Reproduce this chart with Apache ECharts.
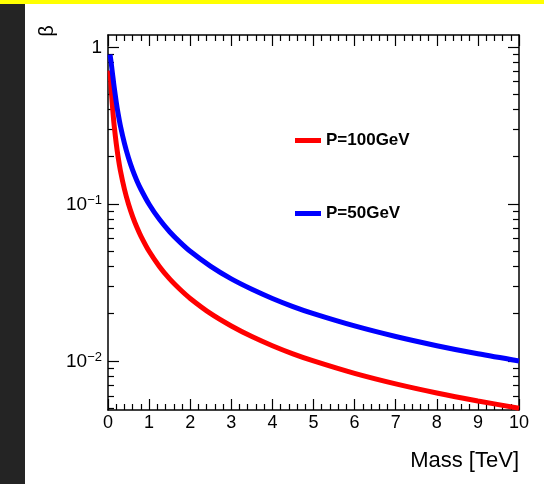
<!DOCTYPE html>
<html>
<head>
<meta charset="utf-8">
<script src="https://cdn.jsdelivr.net/npm/echarts@6/dist/echarts.min.js"></script>
<style>html,body{margin:0;padding:0;background:#fff;}#c{width:544px;height:484px;}</style>
</head>
<body>
<div id="c"></div>
<script>
// Mass [TeV]
const mass = [0.05,0.075,0.1,0.125,0.15,0.2,0.25,0.3,0.4,0.5,0.6,0.7,0.8,1.0,1.25,1.5,1.75,2,2.5,3,3.5,4,4.5,5,6,7,8,9,10];
// beta values
const betaBlue = [0.894,0.800,0.707,0.625,0.555,0.447,0.371,0.316,0.243,0.196,0.164,0.141,0.124,0.0995,0.0797,0.0665,0.0571,0.0499,0.0400,0.0333,0.0286,0.0250,0.0222,0.0200,0.0167,0.0143,0.0125,0.0111,0.0100];
const betaRed  = [0.707,0.555,0.447,0.371,0.316,0.243,0.196,0.164,0.124,0.0995,0.0830,0.0712,0.0624,0.0499,0.0400,0.0333,0.0286,0.0250,0.0200,0.0167,0.0143,0.0125,0.0111,0.0100,0.00833,0.00714,0.00625,0.00556,0.00500];
const seriesNames = ['P=100GeV','P=50GeV'];
const xTicks = [0,1,2,3,4,5,6,7,8,9,10];
const yMajor = [0.01,0.1,1];
const yMinor = [0.005,0.006,0.007,0.008,0.009,0.02,0.03,0.04,0.05,0.06,0.07,0.08,0.09,0.2,0.3,0.4,0.5,0.6,0.7,0.8,0.9];
const yRange = [0.00487, 1.19];

const L = v => Math.log10(v);
const YMIN = L(yRange[0]), YMAX = L(yRange[1]);
const majorLog = yMajor.map(L);
const minorLog = yMinor.map(L);
const font = '"Liberation Sans", Arial, Helvetica, sans-serif';
const black = '#000';

function yAx(pos, major, showLabel){
  return {
    type:'value', position:pos, min:YMIN, max:YMAX, offset:0,
    axisLine:{show: major, lineStyle:{color:black, width:1.5}},
    axisTick:{show:true, inside:true, length: major?11:6, customValues: major?majorLog:minorLog, lineStyle:{color:black, width:1.2}},
    axisLabel:{show:showLabel, customValues: majorLog, margin:6, color:black, fontFamily:font,
      formatter: function(v){
        const e = Math.round(v);
        if (e === 0) return '{b|1}';
        return '{b|10}{s|\u2212' + (-e) + '}';
      },
      rich:{
        b:{fontSize:19, fontFamily:font, color:black, lineHeight:20, verticalAlign:'bottom'},
        s:{fontSize:13, fontFamily:font, color:black, lineHeight:14, verticalAlign:'top', padding:[0,0,12,0]}
      }
    },
    splitLine:{show:false}
  };
}
function xAx(pos, showLabel){
  return {
    type:'value', position:pos, min:xTicks[0], max:xTicks[xTicks.length-1], interval:1,
    axisLine:{show:true, onZero:false, lineStyle:{color:black, width:1.5}},
    axisTick:{show:true, inside:true, length:11, lineStyle:{color:black, width:1.2}},
    minorTick:{show:true, splitNumber:5, length:6, lineStyle:{color:black, width:1.2}},
    axisLabel:{show:showLabel, fontSize:18, fontFamily:font, color:black, margin:4},
    splitLine:{show:false},
    name: showLabel ? 'Mass [TeV]' : '',
    nameLocation:'end', nameGap:0,
    nameTextStyle:{fontSize:22, fontFamily:font, color:black, align:'right', verticalAlign:'top', padding:[40,0,0,0]}
  };
}

const chart = echarts.init(document.getElementById('c'), null, {renderer:'canvas'});
chart.setOption({
  animation:false,
  backgroundColor:'#fff',
  grid:{left:108, right:25, top:35, bottom:74, containLabel:false},
  xAxis:[xAx('bottom', true), xAx('top', false)],
  yAxis:[yAx('left', true, true), yAx('left', false, false), yAx('right', true, false), yAx('right', false, false)],
  legend:[
    {data:[seriesNames[0]], left:290, top:127, icon:'rect', itemWidth:26, itemHeight:5,
     textStyle:{fontSize:17, fontWeight:'bold', fontFamily:font, color:black}},
    {data:[seriesNames[1]], left:290, top:200, icon:'rect', itemWidth:26, itemHeight:5,
     textStyle:{fontSize:17, fontWeight:'bold', fontFamily:font, color:black}}
  ],
  graphic:[
    {type:'rect', shape:{x:0, y:0, width:544, height:4}, style:{fill:'#ffff00'}, z:100},
    {type:'rect', shape:{x:0, y:4, width:25, height:480}, style:{fill:'#242424'}, z:100},
    {type:'text', x:47, y:31, rotation:Math.PI/2, z:100,
     style:{text:'\u03b2', fontSize:20, fontFamily:font, fill:black, align:'center', verticalAlign:'middle'}}
  ],
  series:[
    {name:seriesNames[0], type:'line', xAxisIndex:0, yAxisIndex:0, showSymbol:false, symbol:'none', smooth:0.3,
     lineStyle:{color:'#ff0000', width:5}, itemStyle:{color:'#ff0000'},
     data: mass.map((m,i)=>[m, L(betaRed[i])])},
    {name:seriesNames[1], type:'line', xAxisIndex:0, yAxisIndex:0, showSymbol:false, symbol:'none', smooth:0.3,
     lineStyle:{color:'#0000ff', width:5}, itemStyle:{color:'#0000ff'},
     data: mass.map((m,i)=>[m, L(betaBlue[i])])}
  ]
});
</script>
</body>
</html>
